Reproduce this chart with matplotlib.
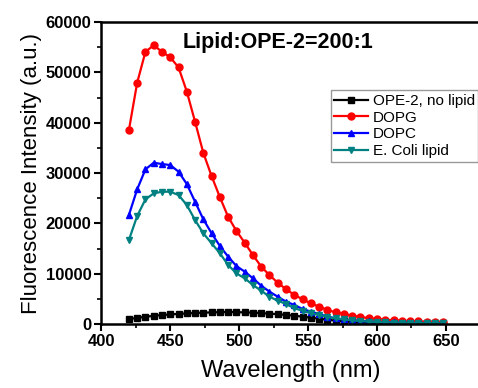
"""Fluorescence emission of OPE-2 with different lipids (lipid:OPE-2 = 200:1)."""

import matplotlib
matplotlib.use("Agg")
import matplotlib.pyplot as plt
import numpy as np
from matplotlib.ticker import MultipleLocator

plt.rcParams["font.family"] = ["Liberation Sans", "DejaVu Sans"]

WAVELENGTH = np.arange(420, 649, 6)

NO_LIPID = [990, 1200, 1450, 1600, 1780, 1900, 2000, 2100, 2180, 2250,
            2300, 2350, 2380, 2350, 2300, 2250, 2150, 2050, 1950, 1800,
            1650, 1450, 1250, 1050, 850, 650, 500, 400, 320, 260,
            220, 190, 170, 150, 140, 130, 120, 110, 100]
DOPG = [38550, 47950, 54100, 55400, 54100, 53000, 51000, 46200, 40200, 34000,
        29400, 25200, 21300, 18500, 16150, 13700, 11400, 9700, 8200, 6900,
        5800, 4900, 4100, 3450, 2800, 2300, 2000, 1650, 1400, 1150,
        1000, 850, 750, 650, 580, 520, 470, 430, 400]
DOPC = [21660, 26760, 30740, 32050, 31790, 31590, 30270, 27820, 24300, 20800,
        18020, 15500, 13370, 11520, 10400, 9070, 7610, 6420, 5420, 4430,
        3780, 2980, 2450, 1990, 1460, 1130, 900, 750, 600, 500,
        420, 360, 310, 270, 240, 210, 190, 170, 160]
ECOLI = [16690, 21460, 24770, 25960, 26290, 26290, 25630, 23650, 20660, 18020,
         16030, 14050, 11720, 10070, 9070, 7750, 6620, 5420, 4630, 3970,
         3120, 2650, 2120, 1790, 1400, 1100, 900, 720, 580, 470,
         400, 340, 290, 250, 220, 200, 180, 160, 150]

SERIES = [
    ("OPE-2, no lipid", NO_LIPID, "black", "s"),
    ("DOPG", DOPG, "#FF0000", "o"),
    ("DOPC", DOPC, "#0000FF", "^"),
    ("E. Coli lipid", ECOLI, "#008080", "v"),
]

fig = plt.figure(figsize=(4.78, 3.88), dpi=100)
ax = fig.add_axes([0.212, 0.165, 0.793, 0.778])

for label, values, color, marker in SERIES:
    ax.plot(WAVELENGTH, values, color=color, marker=marker, markersize=5,
            linewidth=1.6, label=label)

ax.set_xlim(400, 675)
ax.set_ylim(0, 60000)
ax.set_xticks([400, 450, 500, 550, 600, 650])
ax.set_yticks(range(0, 60001, 10000))
ax.xaxis.set_minor_locator(MultipleLocator(25))
ax.yaxis.set_minor_locator(MultipleLocator(5000))
ax.tick_params(which="major", direction="out", length=5, width=1.5,
               labelsize=12, top=False, right=False, pad=2)
ax.tick_params(which="minor", direction="out", length=3, width=1.2,
               top=False, right=False)
for lab in ax.get_xticklabels() + ax.get_yticklabels():
    lab.set_fontweight("bold")
for spine in ax.spines.values():
    spine.set_linewidth(1.8)

ax.set_xlabel("Wavelength (nm)", fontsize=17, labelpad=8)
ax.set_ylabel("Fluorescence Intensity (a.u.)", fontsize=16, labelpad=3)
ax.text(0.215, 0.934, "Lipid:OPE-2=200:1", transform=ax.transAxes,
        fontsize=15.5, fontweight="bold", ha="left", va="center")

leg = ax.legend(loc="upper right", bbox_to_anchor=(0.995, 0.775), fontsize=11,
                frameon=True, fancybox=False, borderpad=0.25, labelspacing=0.18,
                handlelength=2.2, handletextpad=0.3, borderaxespad=0)
leg.get_frame().set_edgecolor("#808080")
leg.get_frame().set_linewidth(1.0)

fig.savefig("out.png", dpi=100, facecolor="white")
